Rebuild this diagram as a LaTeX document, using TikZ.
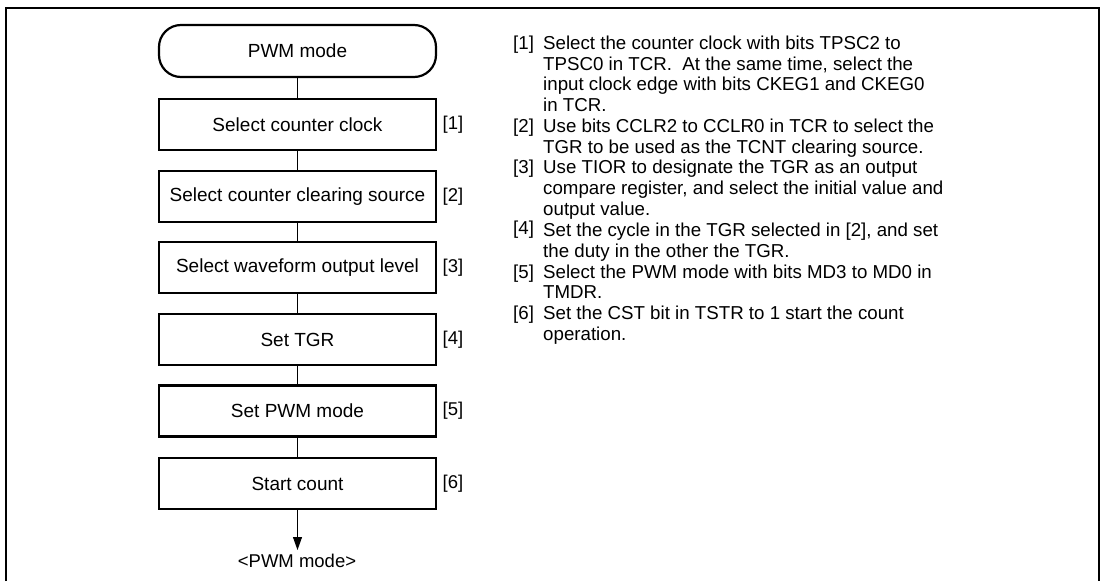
\documentclass[tikz,border=0pt]{standalone}
\usepackage{fontspec}
\setmainfont{Liberation Sans}
\usetikzlibrary{arrows.meta}
\begin{document}
\begin{tikzpicture}[x=1pt,y=-1pt,
  stepbox/.style={draw,line width=2.4pt,minimum width=277pt,minimum height=51pt,inner sep=0pt,font=\fontsize{19}{22}\selectfont},
  termbox/.style={draw,line width=2.2pt,rounded corners=22pt,minimum width=277pt,minimum height=52pt,inner sep=0pt,font=\fontsize{19}{22}\selectfont},
  conn/.style={line width=1pt},
  tag/.style={anchor=center,font=\fontsize{18.5}{22}\selectfont,inner sep=0pt}]
\useasboundingbox (0,0) rectangle (1103,581);
\draw[line width=2.6pt] (6,581) -- (6,8) -- (1099,8) -- (1099,581);
\node[termbox] (s) at (297.5,51) {PWM mode};
\node[stepbox] (b1) at (297.5,124.5) {Select counter clock};
\node[stepbox] (b2) at (297.5,196.5) {Select counter clearing source};
\node[stepbox] (b3) at (297.5,267.5) {Select waveform output level};
\node[stepbox] (b4) at (297.5,339.5) {Set TGR};
\node[stepbox] (b5) at (297.5,411) {Set PWM mode};
\node[stepbox] (b6) at (297.5,483.5) {Start count};
\coordinate (e) at (297.5,550);
\node[tag] (end) at (297,561) {<PWM mode>};
\draw[conn] (s) -- (b1);
\draw[conn] (b1) -- (b2);
\draw[conn] (b2) -- (b3);
\draw[conn] (b3) -- (b4);
\draw[conn] (b4) -- (b5);
\draw[conn] (b5) -- (b6);
\draw[conn,-{Triangle[length=13pt,width=9pt]}] (b6) -- (e);
\node[tag] (t1) at (453,124.5) {[1]};
\node[tag] (t2) at (453,196.5) {[2]};
\node[tag] (t3) at (453,267.5) {[3]};
\node[tag] (t4) at (453,339.5) {[4]};
\node[tag] (t5) at (453,411) {[5]};
\node[tag] (t6) at (453,483.5) {[6]};
\node[anchor=base west,inner sep=0pt,font=\fontsize{18.7}{20.7}\selectfont] (notes) at (513,49.5) {%
\begin{tabular}[t]{@{}p{30pt}@{}l@{}}
[1] & Select the counter clock with bits TPSC2 to\\
 & TPSC0 in TCR.\ \ At the same time, select the\\
 & input clock edge with bits CKEG1 and CKEG0\\
 & in TCR.\\
{}[2] & Use bits CCLR2 to CCLR0 in TCR to select the\\
 & TGR to be used as the TCNT clearing source.\\
{}[3] & Use TIOR to designate the TGR as an output\\
 & compare register, and select the initial value and\\
 & output value.\\
\raisebox{2pt}{[4]} & Set the cycle in the TGR selected in [2], and set\\
 & the duty in the other the TGR.\\
{}[5] & Select the PWM mode with bits MD3 to MD0 in\\
 & TMDR.\\
{}[6] & Set the CST bit in TSTR to 1 start the count\\
 & operation.
\end{tabular}};
\end{tikzpicture}
\end{document}
